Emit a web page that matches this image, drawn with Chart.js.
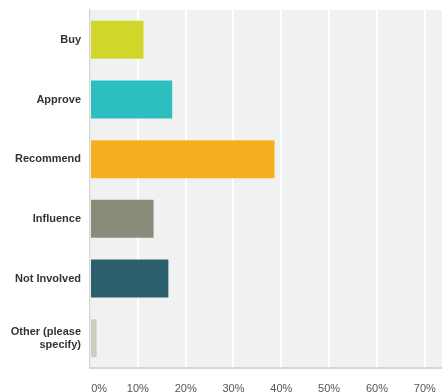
<!DOCTYPE html>
<html>
<head>
<meta charset="utf-8">
<script src="https://cdn.jsdelivr.net/npm/chart.js@4"></script>
<style>
  html, body { margin: 0; padding: 0; background: #fff; }
  #wrap { width: 442px; height: 392px; }
</style>
</head>
<body>
<div id="wrap"><canvas id="bar-chart"></canvas></div>
<script>
"use strict"

// survey answers, percent of respondents
const categories = ['Buy', 'Approve', 'Recommend', 'Influence', 'Not Involved', ['Other (please', 'specify)']];
const shares = [11.4, 17.4, 38.8, 13.5, 16.6, 1.6];
const barColors = ['#d0d62a', '#2dbfc0', '#f6b01f', '#8a8b79', '#2a5f6b', '#d1cec0'];
const tickSteps = [0, 10, 20, 30, 40, 50, 60, 70];

// grey panel behind the bars
const panel = {
  id: 'panel',
  beforeDraw(chart) {
    const a = chart.chartArea;
    const ctx = chart.ctx;
    ctx.save();
    ctx.fillStyle = '#f0f1f1';
    ctx.fillRect(a.left, a.top, a.right - a.left, a.bottom - a.top);
    ctx.restore();
  }
};

const data = {
  labels: categories,
  datasets: [{
    data: shares,
    backgroundColor: barColors,
    borderColor: 'rgba(255,255,255,0.35)',
    borderWidth: 1,
    categoryPercentage: 1,
    barPercentage: 0.67
  }]
};

const config = {
  type: 'bar',
  data,
  plugins: [panel],
  options: {
    indexAxis: 'y',
    responsive: true,
    maintainAspectRatio: false,
    animation: false,
    layout: { padding: { top: 10, right: 0, left: 0, bottom: 0 } },
    plugins: {
      legend: { display: false },
      tooltip: { enabled: false }
    },
    scales: {
      x: {
        min: 0,
        max: 73.6,
        afterFit(scale) {
          scale.height = 24;
          scale.paddingLeft = 0;
          scale.paddingRight = 0;
        },
        afterBuildTicks(scale) {
          scale.ticks = tickSteps.map(v => ({ value: v }));
        },
        ticks: {
          includeBounds: false,
          padding: 14,
          color: '#555',
          font: { family: 'Liberation Sans', size: 11 },
          // first label sits clear of the left axis
          callback: v => (v === 0 ? '      ' : '') + v + '%'
        },
        grid: { color: '#ffffff', lineWidth: 2, drawTicks: false },
        border: { color: '#d6d6d6', width: 2 }
      },
      y: {
        afterFit(scale) {
          scale.width = 90;
          scale.paddingTop = 0;
          scale.paddingBottom = 0;
        },
        ticks: {
          padding: 9,
          color: '#333',
          font: { family: 'Liberation Sans', size: 11, weight: 'bold' }
        },
        grid: { display: false, drawTicks: false },
        border: { color: '#d6d6d6', width: 1.5 }
      }
    }
  }
};

const barChart = new Chart(document.getElementById('bar-chart'), config);
</script>
</body>
</html>
